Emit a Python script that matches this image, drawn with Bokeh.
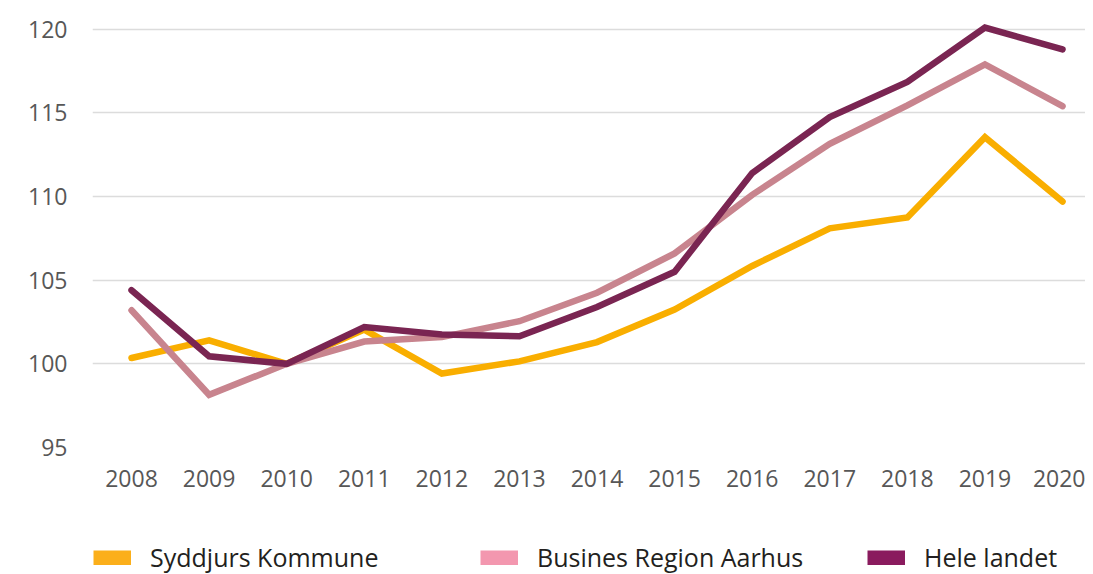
from bokeh.plotting import figure
from bokeh.layouts import column
from bokeh.models import Range1d, Legend, LegendItem, FixedTicker
from bokeh.embed import file_html
from bokeh.resources import INLINE

years = list(range(2008, 2021))
syddjurs = [100.35, 101.4, 100.0, 102.05, 99.42, 100.15, 101.3, 103.25, 105.85, 108.1, 108.75, 113.55, 109.7]
aarhus = [103.2, 98.15, 100.0, 101.33, 101.6, 102.55, 104.25, 106.6, 110.1, 113.15, 115.45, 117.9, 115.4]
hele = [104.4, 100.45, 100.0, 102.2, 101.75, 101.65, 103.4, 105.5, 111.4, 114.75, 116.85, 120.1, 118.8]
series_names = ["Syddjurs Kommune", "Busines Region Aarhus", "Hele landet"]
y_ticks = [95, 100, 105, 110, 115, 120]

line_colors = ["#F9AE00", "#C8848E", "#7A2552"]
legend_colors = ["#FBAF1B", "#F397AF", "#8A1B5E"]

FONT = "Open Sans"

p = figure(width=1085, height=530, output_backend="svg", toolbar_location=None,
           x_range=Range1d(2007.497, 2020.296), y_range=Range1d(95, 121),
           min_border_left=92, min_border_right=0, min_border_top=12, min_border_bottom=83)
p.outline_line_color = None
p.background_fill_color = "white"
p.border_fill_color = "white"

for vals, col in zip([syddjurs, aarhus, hele], line_colors):
    p.line(years, vals, line_color=col, line_width=6.5, line_join="miter", line_cap="round")

# grid
p.xgrid.visible = False
p.ygrid.ticker = FixedTicker(ticks=y_ticks)
p.ygrid.grid_line_color = "#DCDCDC"
p.ygrid.grid_line_width = 1.5

# axes
p.xaxis.ticker = FixedTicker(ticks=years)
p.yaxis.ticker = FixedTicker(ticks=y_ticks)
for ax in (p.xaxis[0], p.yaxis[0]):
    ax.axis_line_color = None
    ax.major_tick_line_color = None
    ax.minor_tick_line_color = None
    ax.major_tick_in = 0
    ax.major_tick_out = 0
    ax.major_label_text_font = FONT
    ax.major_label_text_font_size = "23px"
    ax.major_label_text_color = "#575757"
p.xaxis.major_label_standoff = 22
p.yaxis.major_label_standoff = 25

# legend in its own strip below the chart, with square swatches
lf = figure(width=1085, height=43, output_backend="svg", toolbar_location=None,
            x_range=Range1d(0, 1), y_range=Range1d(0, 1),
            min_border_left=0, min_border_right=0, min_border_top=0, min_border_bottom=0)
lf.axis.visible = False
lf.grid.visible = False
lf.outline_line_color = None

nan = float("nan")
items = []
for name, col in zip(series_names, legend_colors):
    r = lf.line(x=[nan], y=[nan], line_color=col, line_width=15, line_cap="butt")
    items.append(LegendItem(label=name, renderers=[r]))

legend = Legend(items=items, orientation="horizontal", location=(1, -1),
                glyph_width=38, glyph_height=15, label_standoff=19, label_width=324,
                spacing=6, padding=0, margin=0,
                label_text_font=FONT, label_text_font_size="25px", label_text_color="#231F20",
                border_line_color=None, background_fill_alpha=0)
lf.add_layout(legend, "center")

layout = column(p, lf, spacing=0)
open("out.html", "w").write(file_html(layout, INLINE))
